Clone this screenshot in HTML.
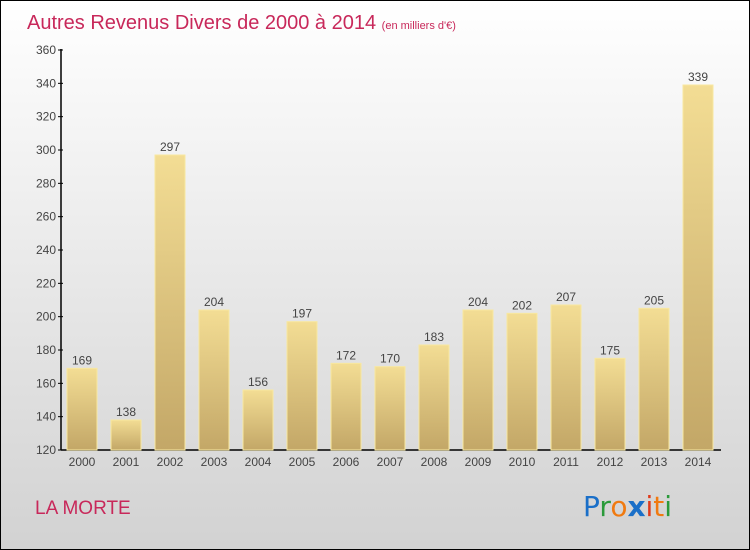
<!DOCTYPE html>
<html><head><meta charset="utf-8"><style>
body{margin:0}
#c{width:750px;height:550px;position:relative;box-sizing:border-box;border:1px solid #000;background:linear-gradient(#fff,#d2d2d2);font-family:"Liberation Sans",sans-serif;overflow:hidden}
</style></head><body>
<div id="c">
<svg id="s" width="750" height="550" style="position:absolute;left:-1px;top:-1px">
<defs><linearGradient id="g" x1="0" y1="0" x2="0" y2="1"><stop offset="0" stop-color="#f3dd94"/><stop offset="1" stop-color="#c3a767"/></linearGradient></defs>
<text x="27" y="29" font-size="20" fill="#c8285a">Autres Revenus Divers de 2000 à 2014 <tspan font-size="11">(en milliers d'€)</tspan></text>
<text x="35" y="514" font-size="19" fill="#c8285a">LA MORTE</text>
<g font-size="28" font-family="DejaVu Sans, sans-serif">
<text x="583" y="516"><tspan fill="#1a6fc8">P</tspan><tspan fill="#2a9a3a">r</tspan><tspan fill="#f07a10">o</tspan><tspan fill="#1a6fc8" font-weight="bold">x</tspan><tspan fill="#e03a1a">i</tspan><tspan fill="#f07a10">t</tspan><tspan fill="#2a9a3a">i</tspan></text></g>
<g id="ax"></g><g id="bars"></g>
</svg></div>
<script>
const categories=["2000","2001","2002","2003","2004","2005","2006","2007","2008","2009","2010","2011","2012","2013","2014"];
const values=[169,138,297,204,156,197,172,170,183,204,202,207,175,205,339];
const ticks=[120,140,160,180,200,220,240,260,280,300,320,340,360];
const NS="http://www.w3.org/2000/svg";
const y=v=>450-(v-120)*400/240;
const x=i=>82+i*44;
function mk(t,a,p){const e=document.createElementNS(NS,t);for(const k in a)e.setAttribute(k,a[k]);p.appendChild(e);return e;}
const ax=document.getElementById('ax'),bars=document.getElementById('bars');
let l=mk('line',{x1:61,y1:49,x2:61,y2:450,stroke:'#000','stroke-width':1.5},ax);


l=mk('line',{x1:61,y1:450,x2:721,y2:450,stroke:'#000','stroke-width':1.5},ax);


ticks.forEach(t=>{mk('line',{x1:58,x2:63,y1:y(t),y2:y(t),stroke:'#000'},ax);
const tx=mk('text',{x:56,y:y(t)+4,'font-size':12,fill:'#444','text-anchor':'end'},ax);tx.textContent=t;

});
categories.forEach((c,i)=>{const v=values[i];
const r=mk('rect',{x:x(i)-15,y:y(v),width:30,height:450-y(v),fill:'url(#g)',stroke:'#f8e8a0','stroke-width':1},bars);


const vt=mk('text',{x:x(i),y:y(v)-4,'font-size':12,fill:'#444','text-anchor':'middle'},bars);vt.textContent=v;


const ct=mk('text',{x:x(i),y:466,'font-size':12,fill:'#444','text-anchor':'middle'},bars);ct.textContent=c;

});
</script></body></html>
